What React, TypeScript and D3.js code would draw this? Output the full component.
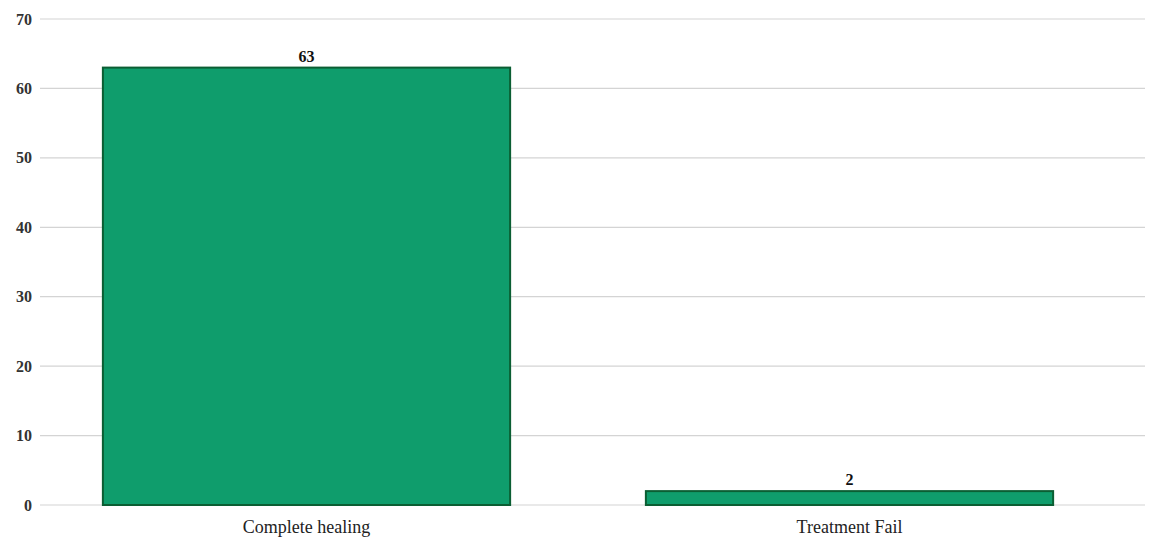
import React from "react";
import * as d3 from "d3";

const categories = ["Complete healing", "Treatment Fail"];
const counts = [63, 2];
const yTicks = [0, 10, 20, 30, 40, 50, 60, 70];

const width = 1150;
const height = 542;

const App = () => {
  const yScale = d3.scaleLinear().domain([0, 70]).range([505, 19]);

  const xScale = d3
    .scaleBand()
    .domain(categories)
    .range([35, 1121])
    .paddingInner(0.25)
    .paddingOuter(0.125);

  const font = "'Liberation Serif', 'DejaVu Serif', serif";

  return (
    <svg
      width={width}
      height={height}
      style={{ position: "absolute", left: 0, top: 0, background: "#fff" }}
    >
      {
        // gridlines + y labels
        yTicks.map((t) => (
          <g key={t}>
            <line
              x1={40}
              x2={1145}
              y1={yScale(t)}
              y2={yScale(t)}
              stroke="#d4d4d4"
              strokeWidth={1.2}
            />
            <text
              x={32}
              y={yScale(t)}
              dy=".35em"
              textAnchor="end"
              fontFamily={font}
              fontSize={16}
              fontWeight="bold"
              fill="#333"
            >
              {t}
            </text>
          </g>
        ))
      }
      {
        // bars
        categories.map((c, i) => (
          <g key={c}>
            <rect
              x={xScale(c)}
              y={yScale(counts[i])}
              width={xScale.bandwidth()}
              height={yScale(0) - yScale(counts[i])}
              fill="#0f9d6c"
              stroke="#0b5e33"
              strokeWidth={2}
            />
            <text
              x={xScale(c) + xScale.bandwidth() / 2}
              y={yScale(counts[i]) - 6}
              textAnchor="middle"
              fontFamily={font}
              fontSize={16}
              fontWeight="bold"
              fill="#111"
            >
              {counts[i]}
            </text>
            <text
              x={xScale(c) + xScale.bandwidth() / 2}
              y={533}
              textAnchor="middle"
              fontFamily={font}
              fontSize={18}
              fill="#222"
            >
              {c}
            </text>
          </g>
        ))
      }
    </svg>
  );
};

export default App;
